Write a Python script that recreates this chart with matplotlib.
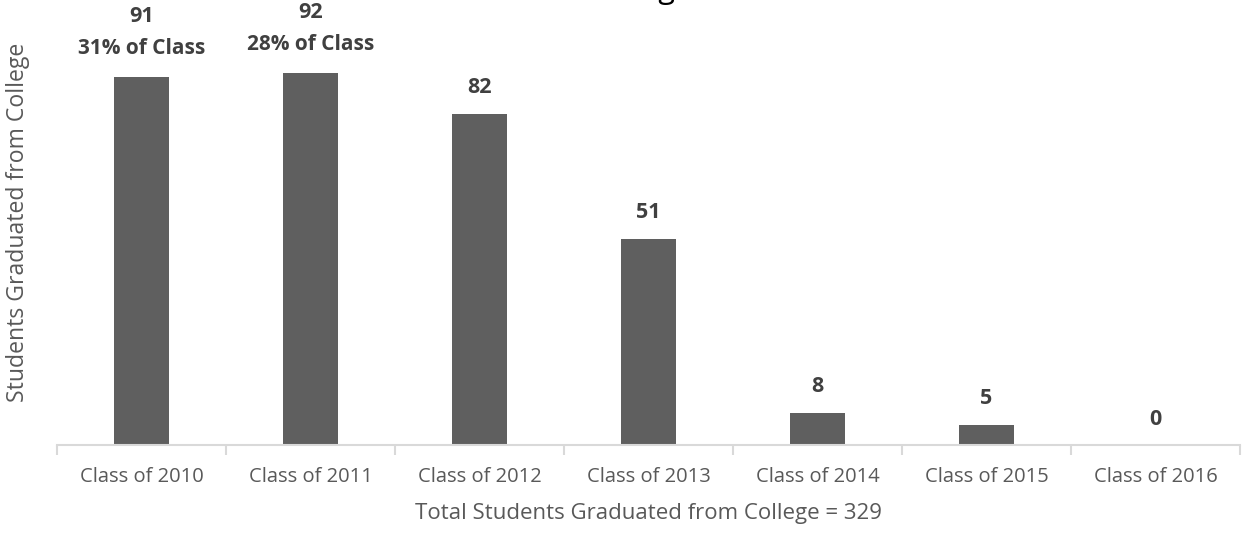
import matplotlib
matplotlib.use("Agg")
import matplotlib.pyplot as plt
import numpy as np

categories = ["Class of 2010", "Class of 2011", "Class of 2012", "Class of 2013",
              "Class of 2014", "Class of 2015", "Class of 2016"]
graduates = [91, 92, 82, 51, 8, 5, 0]
extra_labels = {0: "31% of Class", 1: "28% of Class"}
total = 329

plt.rcParams["font.family"] = ["Open Sans", "DejaVu Sans"]

fig = plt.figure(figsize=(12.56, 5.33), dpi=100)
ax = fig.add_axes([57 / 1256, 88 / 533, (1240 - 57) / 1256, (445 - 41) / 533])

x = np.arange(len(categories))
ax.bar(x, graduates, width=0.32, color="#5f5f5f", zorder=2)
ax.set_xlim(-0.5, len(categories) - 0.5)
ax.set_ylim(0, 100)

for i, v in enumerate(graduates):
    # value label sits higher when a percentage line goes under it
    off = 44 if i in extra_labels else 18.7
    ax.annotate(str(v), (i, v), xytext=(0, off), textcoords="offset points",
                ha="center", va="center", fontsize=15.5, fontweight="bold",
                color="#404040")
    if i in extra_labels:
        ax.annotate(extra_labels[i], (i, v), xytext=(0, 21), textcoords="offset points",
                    ha="center", va="center", fontsize=15, fontweight="bold",
                    color="#404040")

for s in ["top", "right", "left"]:
    ax.spines[s].set_visible(False)
ax.spines["bottom"].set_color("#d9d9d9")
ax.spines["bottom"].set_linewidth(1.5)
ax.set_yticks([])

ax.set_xticks(np.arange(-0.5, len(categories)), minor=False)
ax.set_xticklabels([])
ax.tick_params(axis="x", which="major", length=7, color="#d9d9d9", width=1.5)
ax.set_xticks(x, minor=True)
ax.set_xticklabels(categories, minor=True)
ax.tick_params(axis="x", which="minor", length=0, pad=16, labelsize=14.5, labelcolor="#595959")

ax.set_xlabel(f"Total Students Graduated from College = {total}", fontsize=16,
              color="#595959", labelpad=11)
ax.set_ylabel("Students Graduated from College", fontsize=16.6, color="#595959")
ax.yaxis.set_label_coords(-0.0225, 0.552)

fig.text(0.51, 1.004, "College", ha="center", va="baseline", fontsize=22, color="#000000")

fig.savefig("out.png", dpi=100)
